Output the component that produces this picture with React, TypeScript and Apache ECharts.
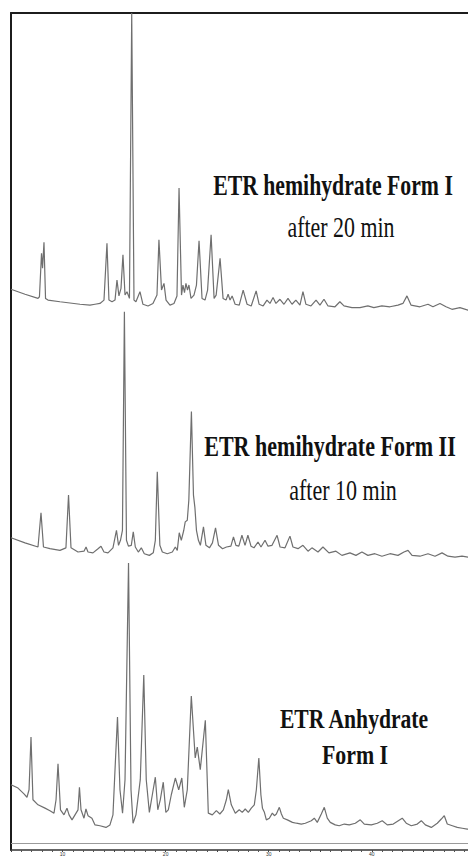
import React, { useEffect, useRef } from "react";
import * as echarts from "echarts";

// 2θ (degrees) vs stacked intensity (a.u.)
const formIAfter20: [number, number][] = [
  [5.0, 67.0], [6.36, 66.4], [7.62, 65.9], [7.76, 66.1], [7.96, 71.3], [8.06, 69.5], [8.2, 72.6], [8.35, 65.9],
  [8.59, 65.7], [9.75, 65.5], [11.69, 65.2], [12.66, 65.1], [13.15, 65.2], [13.63, 65.3], [14.02, 65.7],
  [14.31, 72.5], [14.5, 65.7], [14.8, 65.5], [15.09, 65.7], [15.28, 68.1], [15.47, 66.2], [15.67, 67.1],
  [15.86, 71.1], [16.06, 66.3], [16.25, 66.7], [16.49, 65.9], [16.71, 100], [16.93, 65.7], [17.12, 65.5],
  [17.51, 66.7], [17.8, 65.2], [18.29, 65.0], [18.77, 65.3], [19.16, 66.3], [19.35, 72.9], [19.6, 66.9],
  [19.84, 67.7], [20.04, 65.7], [20.42, 65.1], [20.81, 65.3], [21.1, 66.2], [21.3, 79.1], [21.54, 66.3],
  [21.68, 67.5], [21.83, 66.6], [21.97, 67.7], [22.12, 66.9], [22.26, 67.5], [22.46, 65.9], [22.75, 66.3],
  [22.99, 67.5], [23.24, 72.8], [23.53, 65.9], [23.82, 65.7], [24.07, 66.9], [24.41, 73.5], [24.7, 65.9],
  [24.9, 66.3], [25.28, 70.7], [25.57, 65.9], [25.86, 65.7], [26.06, 66.4], [26.25, 65.7], [26.45, 66.2],
  [26.74, 65.2], [27.14, 65.1], [27.52, 66.9], [27.9, 65.2], [28.3, 65.0], [28.78, 66.8], [29.07, 65.2],
  [29.46, 65.0], [29.83, 65.7], [30.12, 65.3], [30.42, 66.0], [30.7, 65.3], [31.09, 65.8], [31.48, 65.2],
  [31.87, 65.9], [32.26, 65.2], [32.63, 65.7], [33.03, 65.1], [33.32, 66.7], [33.61, 65.2], [34.1, 65.0],
  [34.59, 65.7], [34.97, 65.1], [35.36, 65.8], [35.75, 65.0], [36.43, 64.9], [36.9, 65.5], [37.3, 65.0],
  [38.07, 64.8], [38.85, 64.8], [39.62, 65.0], [40.2, 64.8], [40.98, 65.0], [41.76, 64.9], [42.54, 65.1],
  [43.02, 65.3], [43.41, 66.2], [43.8, 65.1], [44.67, 64.9], [45.45, 65.2], [45.93, 64.9], [46.61, 65.3],
  [47.2, 64.9], [47.77, 64.6], [48.55, 64.8], [49.33, 64.5], [50.0, 64.4],
];

const formIIAfter10: [number, number][] = [
  [5.0, 37.3], [6.36, 36.7], [7.62, 36.2], [7.91, 40.3], [8.15, 36.2], [8.78, 36.0], [9.75, 35.8], [10.33, 36.1],
  [10.58, 42.4], [10.82, 36.1], [11.5, 35.6], [12.08, 35.7], [12.28, 36.2], [12.47, 35.6], [12.95, 35.5],
  [13.44, 36.0], [13.73, 36.3], [14.02, 35.6], [14.41, 35.5], [14.89, 36.1], [15.23, 38.2], [15.43, 36.4],
  [15.62, 37.0], [15.81, 38.2], [16.0, 64.3], [16.2, 37.0], [16.39, 36.3], [16.67, 36.4], [16.86, 38.0],
  [17.06, 36.2], [17.35, 35.6], [17.64, 36.1], [17.93, 35.4], [18.42, 35.2], [18.8, 35.5], [19.0, 37.0],
  [19.19, 45.2], [19.44, 36.4], [19.68, 35.6], [20.16, 35.4], [20.65, 35.6], [20.94, 36.2], [21.13, 35.8],
  [21.32, 37.9], [21.52, 37.0], [21.76, 38.2], [21.9, 39.2], [22.1, 39.4], [22.25, 41.8], [22.5, 52.4],
  [22.7, 42.4], [22.84, 40.9], [22.99, 38.2], [23.18, 37.0], [23.37, 36.4], [23.67, 38.6], [23.91, 36.4],
  [24.25, 36.1], [24.54, 36.7], [24.84, 38.5], [25.13, 36.4], [25.52, 36.0], [25.9, 36.2], [26.33, 36.3],
  [26.58, 37.4], [26.82, 36.4], [27.1, 36.3], [27.4, 37.6], [27.7, 36.4], [27.98, 37.6], [28.28, 36.3],
  [28.57, 36.1], [28.96, 36.8], [29.25, 36.2], [29.64, 37.0], [29.93, 36.3], [30.32, 36.4], [30.81, 37.6],
  [31.1, 36.2], [31.58, 36.1], [32.06, 37.5], [32.35, 36.2], [32.84, 36.0], [33.32, 36.4], [33.81, 35.7],
  [34.19, 36.1], [34.78, 35.6], [35.26, 36.2], [35.84, 35.5], [36.52, 35.7], [37.1, 35.2], [37.88, 35.5],
  [38.46, 35.2], [39.04, 35.6], [39.62, 35.2], [40.3, 35.4], [40.98, 35.1], [41.76, 35.4], [42.54, 35.2],
  [43.12, 35.6], [43.51, 35.8], [43.9, 35.2], [44.67, 35.1], [45.45, 35.4], [46.13, 35.1], [46.81, 35.5],
  [47.39, 35.1], [48.07, 35.0], [48.75, 35.1], [49.33, 35.0], [50.0, 34.9],
];

const anhydrateFormI: [number, number][] = [
  [5.0, 7.8], [5.68, 7.4], [6.26, 6.7], [6.55, 6.3], [6.75, 7.2], [6.94, 13.5], [7.13, 6.0], [7.62, 5.4],
  [8.3, 5.0], [8.78, 4.7], [9.17, 4.4], [9.37, 6.0], [9.56, 10.3], [9.8, 4.8], [10.14, 4.2], [10.43, 5.0],
  [10.63, 4.2], [10.92, 3.6], [11.21, 4.2], [11.5, 4.8], [11.64, 7.5], [11.79, 4.8], [12.08, 3.8], [12.27, 4.9],
  [12.47, 4.1], [12.85, 3.8], [13.15, 3.0], [13.63, 2.9], [14.21, 2.7], [14.6, 3.0], [14.89, 4.2], [15.09, 9.6],
  [15.33, 15.9], [15.57, 7.2], [15.82, 4.4], [16.06, 8.4], [16.4, 34.3], [16.64, 7.2], [16.84, 3.2], [17.12, 4.2],
  [17.42, 7.2], [17.54, 8.4], [17.88, 20.9], [18.12, 8.4], [18.42, 4.5], [18.71, 6.6], [19.0, 8.7], [19.24, 4.8],
  [19.48, 6.0], [19.77, 8.1], [20.02, 4.5], [20.26, 4.8], [20.55, 6.6], [20.94, 8.6], [21.27, 7.2], [21.57, 8.6],
  [21.81, 5.1], [22.1, 7.2], [22.49, 18.4], [22.87, 11.0], [23.07, 12.3], [23.36, 9.6], [23.85, 15.5],
  [24.14, 4.4], [24.53, 4.2], [24.92, 4.7], [25.26, 4.3], [25.6, 4.8], [25.89, 6.0], [26.08, 7.2], [26.37, 5.4],
  [26.76, 4.4], [27.14, 4.8], [27.43, 4.5], [27.72, 4.9], [28.02, 4.5], [28.31, 5.0], [28.6, 5.4], [28.8, 7.2],
  [29.04, 11.0], [29.24, 6.6], [29.39, 5.0], [29.58, 4.5], [29.77, 3.6], [30.06, 3.8], [30.35, 4.4], [30.55, 4.1],
  [30.74, 4.3], [31.03, 5.1], [31.23, 4.3], [31.42, 3.8], [31.81, 3.6], [32.3, 3.3], [32.69, 3.2], [33.16, 3.1],
  [33.55, 3.2], [34.13, 3.5], [34.42, 3.8], [34.71, 3.3], [35.1, 4.3], [35.39, 5.1], [35.68, 3.8], [35.97, 3.3],
  [36.45, 3.0], [36.84, 2.9], [37.33, 3.1], [37.81, 3.0], [38.4, 3.2], [38.88, 3.6], [39.27, 3.1], [39.95, 3.0],
  [40.53, 3.2], [41.01, 3.5], [41.5, 3.0], [42.08, 3.1], [42.57, 3.5], [42.95, 3.8], [43.34, 3.2], [43.83, 2.9],
  [44.41, 3.1], [44.8, 3.5], [45.19, 3.0], [45.77, 2.7], [46.35, 3.2], [46.74, 3.7], [47.03, 4.1], [47.32, 3.1],
  [47.81, 2.9], [48.29, 2.7], [48.77, 2.6], [49.26, 2.5], [49.94, 2.5],
];

const seriesNames = ["ETR hemihydrate Form I", "ETR hemihydrate Form II", "ETR Anhydrate Form I"];
const xTickLabels = [10, 20, 30, 40];
const xMin = 5;
const xMax = 49.33;
const referenceLineValue = 0.84;

export default function App() {
  const ref = useRef<HTMLDivElement>(null);
  useEffect(() => {
    if (!ref.current) return;
    const chart = echarts.init(ref.current, null, { renderer: "svg" });
    const lineStyle = { color: "#6f6f6f", width: 1.2 };
    const serif = "'Liberation Serif', 'Times New Roman', serif";
    const txt = (text: string, x: number, y: number, size: number, bold: boolean, sx: number) => ({
      type: "text",
      x,
      y,
      scaleX: sx,
      silent: true,
      style: {
        text,
        fill: "#111",
        font: `${bold ? "bold " : ""}${size}px ${serif}`,
        textAlign: "center",
        textVerticalAlign: "middle",
      },
    });
    chart.setOption({
      animation: false,
      backgroundColor: "#fff",
      grid: { left: 11, right: 0, top: 13, bottom: 6, show: false },
      xAxis: [
        {
          type: "value",
          min: xMin,
          max: xMax,
          interval: 5,
          axisLine: { show: true, lineStyle: { color: "#333", width: 1.5 } },
          axisTick: { show: true, length: 2, lineStyle: { color: "#444" } },
          minorTick: { show: true, splitNumber: 5, length: 2, lineStyle: { color: "#555" } },
          splitLine: { show: false },
          axisLabel: {
            fontSize: 5,
            margin: 1,
            color: "#333",
            showMaxLabel: false,
            formatter: (v: number) => (xTickLabels.includes(v) ? String(v) : ""),
          },
        },
        {
          type: "value",
          position: "top",
          min: xMin,
          max: xMax,
          axisLine: { show: true, lineStyle: { color: "#1c1c1c", width: 2 } },
          axisTick: { show: false },
          axisLabel: { show: false },
          splitLine: { show: false },
        },
      ],
      yAxis: {
        type: "value",
        min: 0,
        max: 100,
        axisLine: { show: true, lineStyle: { color: "#1c1c1c", width: 2 } },
        axisTick: { show: false },
        axisLabel: { show: false },
        splitLine: { show: false },
      },
      series: [
        {
          name: seriesNames[0],
          type: "line",
          data: formIAfter20,
          showSymbol: false,
          lineStyle,
          markLine: {
            silent: true,
            symbol: "none",
            label: { show: false },
            lineStyle: { color: "#9a9a9a", width: 1, type: "solid" },
            data: [{ yAxis: referenceLineValue }],
          },
        },
        { name: seriesNames[1], type: "line", data: formIIAfter10, showSymbol: false, lineStyle },
        { name: seriesNames[2], type: "line", data: anhydrateFormI, showSymbol: false, lineStyle },
      ],
      graphic: [
        txt("ETR hemihydrate Form I", 333, 185, 30, true, 0.725),
        txt("after 20 min", 341, 227, 30, false, 0.73),
        txt("ETR hemihydrate Form II", 330, 446, 29, true, 0.76),
        txt("after 10 min", 343, 490, 29, false, 0.76),
        txt("ETR Anhydrate", 354, 719, 27, true, 0.8),
        txt("Form I", 355, 755, 27, true, 0.81),
      ],
    });
    return () => chart.dispose();
  }, []);
  return <div ref={ref} style={{ position: "fixed", left: 0, top: 0, width: 468, height: 856 }} />;
}
